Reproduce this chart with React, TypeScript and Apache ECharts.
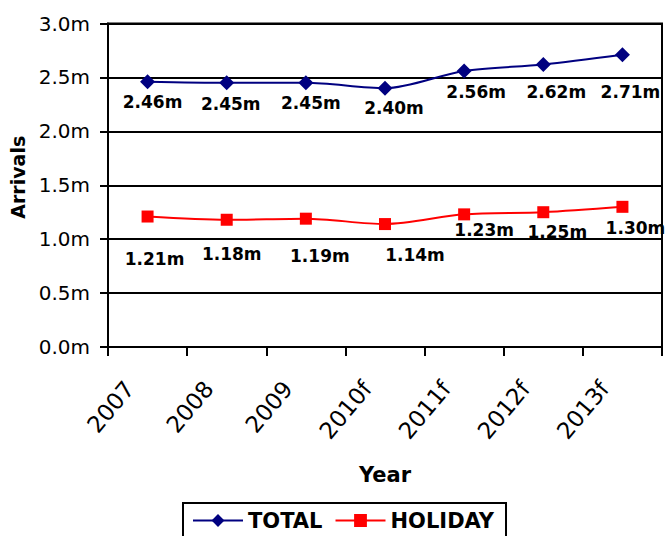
import React, { useEffect, useRef } from "react";
import * as echarts from "echarts";

// Visitor arrivals (millions), actuals and forecasts
const years = ["2007", "2008", "2009", "2010f", "2011f", "2012f", "2013f"];
const totalArrivals = [2.46, 2.45, 2.45, 2.4, 2.56, 2.62, 2.71];
const holidayArrivals = [1.21, 1.18, 1.19, 1.14, 1.23, 1.25, 1.3];

// Label placement relative to each marker (px)
const totalLabelOffsets = [
  [5, 20], [4, 21], [5, 20], [9, 20], [12, 21], [13, 28], [8, 37],
];
const holidayLabelOffsets = [
  [7, 42], [5, 34], [14, 37], [30, 31], [20, 16], [14, 20], [13, 21],
];

const FONT = "'DejaVu Sans', Verdana, sans-serif";

export default function App() {
  const ref = useRef<HTMLDivElement>(null);

  useEffect(() => {
    if (!ref.current) return;
    const chart = echarts.init(ref.current, null, { renderer: "svg" });

    const labelBase = {
      show: true,
      position: "inside",
      fontFamily: FONT,
      fontSize: 17,
      fontWeight: "bold",
      color: "#000",
      formatter: (p: any) => `${Number(p.value).toFixed(2)}m`,
    };

    chart.setOption({
      animation: false,
      backgroundColor: "#fff",
      textStyle: { fontFamily: FONT },
      grid: {
        left: 108,
        right: 3,
        top: 23.5,
        bottom: 189,
        show: true,
        borderColor: "#000",
        borderWidth: 2,
      },
      legend: {
        data: ["TOTAL", "HOLIDAY"],
        left: 183,
        top: 503,
        orient: "horizontal",
        itemWidth: 50,
        itemHeight: 16,
        itemGap: 12,
        padding: [7, 12, 7, 9],
        borderColor: "#000",
        borderWidth: 2,
        backgroundColor: "#fff",
        textStyle: {
          fontFamily: FONT,
          fontSize: 21,
          fontWeight: "bold",
          color: "#000",
        },
      },
      xAxis: {
        type: "category",
        data: years,
        boundaryGap: true,
        name: "Year",
        nameLocation: "middle",
        nameGap: 117,
        nameTextStyle: {
          fontFamily: FONT,
          fontSize: 21,
          fontWeight: "bold",
          color: "#000",
        },
        axisLine: { show: true, lineStyle: { color: "#000", width: 2 } },
        axisTick: { show: true, length: 9, lineStyle: { color: "#000", width: 2 } },
        axisLabel: {
          rotate: 50,
          margin: 16,
          padding: [0, 28, 0, 0],
          fontFamily: FONT,
          fontSize: 23,
          color: "#000",
        },
        splitLine: { show: false },
      },
      yAxis: {
        type: "value",
        min: 0,
        max: 3,
        interval: 0.5,
        name: "Arrivals",
        nameLocation: "middle",
        nameRotate: 90,
        nameGap: 80,
        nameTextStyle: {
          fontFamily: FONT,
          fontSize: 19,
          fontWeight: "bold",
          color: "#000",
          padding: [0, 0, 0, 16],
        },
        axisLine: { show: true, lineStyle: { color: "#000", width: 2 } },
        axisTick: { show: true, length: 8, lineStyle: { color: "#000", width: 2 } },
        axisLabel: {
          margin: 18,
          fontFamily: FONT,
          fontSize: 20,
          color: "#000",
          formatter: (v: number) => `${v.toFixed(1)}m`,
        },
        splitLine: { show: true, lineStyle: { color: "#000", width: 2 } },
      },
      series: [
        {
          name: "TOTAL",
          type: "line",
          smooth: 0.3,
          symbol: "diamond",
          symbolSize: 15,
          color: "#000080",
          itemStyle: { color: "#000080" },
          lineStyle: { color: "#000080", width: 2 },
          label: labelBase,
          data: totalArrivals.map((v, i) => ({
            value: v,
            label: { offset: totalLabelOffsets[i] },
          })),
        },
        {
          name: "HOLIDAY",
          type: "line",
          smooth: 0.3,
          symbol: "rect",
          symbolSize: 12,
          color: "#ff0000",
          itemStyle: { color: "#ff0000" },
          lineStyle: { color: "#ff0000", width: 2 },
          label: labelBase,
          data: holidayArrivals.map((v, i) => ({
            value: v,
            label: { offset: holidayLabelOffsets[i] },
          })),
        },
      ],
    });

    return () => chart.dispose();
  }, []);

  return (
    <div
      ref={ref}
      style={{ position: "absolute", left: 0, top: 0, width: 665, height: 536 }}
    />
  );
}
